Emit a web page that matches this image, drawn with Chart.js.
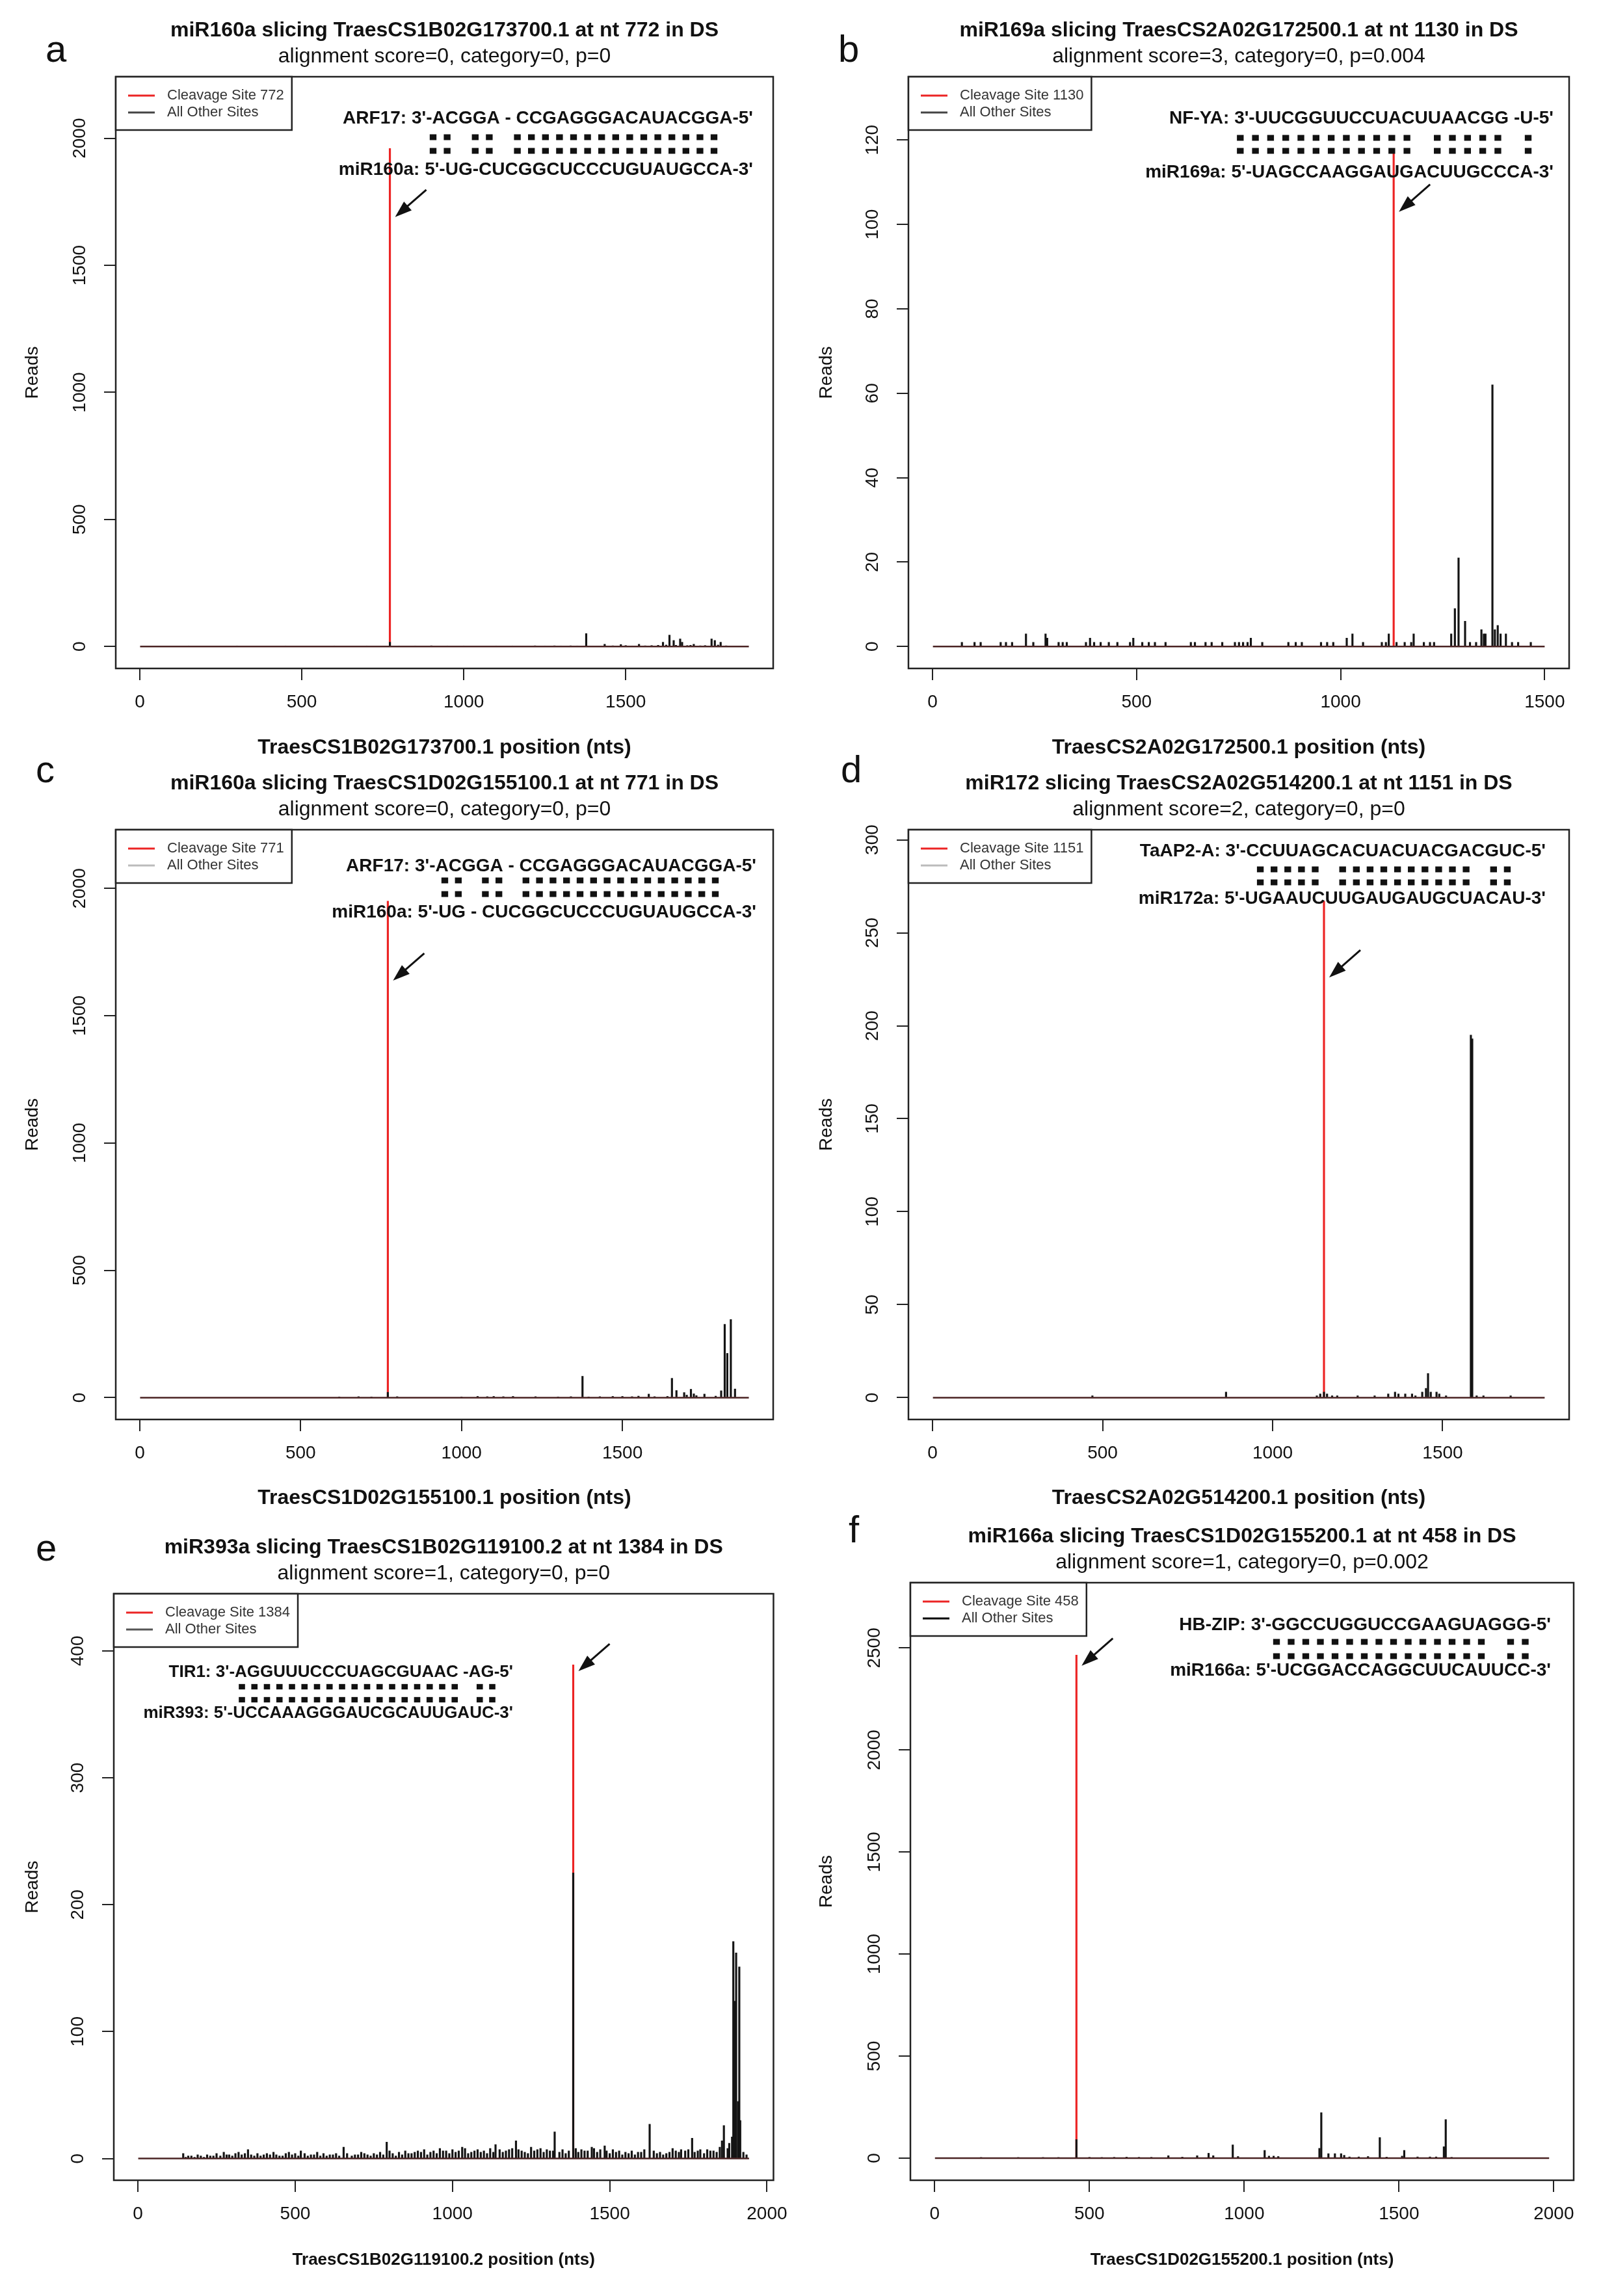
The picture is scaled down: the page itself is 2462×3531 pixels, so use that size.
<!DOCTYPE html>
<html>
<head>
<meta charset="utf-8">
<script src="https://cdn.jsdelivr.net/npm/chart.js@4.4.1/dist/chart.umd.min.js"></script>
<style>
html, body { margin: 0; padding: 0; background: #fff; }
body { width: 2462px; height: 3531px; position: relative; overflow: hidden; font-family: "Liberation Sans", Arial, sans-serif; }
canvas { position: absolute; }
.lab { position: absolute; font-size: 58px; line-height: 58px; color: #111; }
</style>
</head>
<body>
<div class="lab" style="left:70px;top:46px">a</div>
<div class="lab" style="left:1289px;top:46px">b</div>
<div class="lab" style="left:55px;top:1154px">c</div>
<div class="lab" style="left:1293px;top:1154px">d</div>
<div class="lab" style="left:55px;top:2351px">e</div>
<div class="lab" style="left:1305px;top:2323px">f</div>
<script>
// panel texts
const titles = [
  'miR160a slicing TraesCS1B02G173700.1 at nt 772 in DS',
  'miR169a slicing TraesCS2A02G172500.1 at nt 1130 in DS',
  'miR160a slicing TraesCS1D02G155100.1 at nt 771 in DS',
  'miR172 slicing TraesCS2A02G514200.1 at nt 1151 in DS',
  'miR393a slicing TraesCS1B02G119100.2 at nt 1384 in DS',
  'miR166a slicing TraesCS1D02G155200.1 at nt 458 in DS'
];
const subtitles = [
  'alignment score=0, category=0, p=0',
  'alignment score=3, category=0, p=0.004',
  'alignment score=0, category=0, p=0',
  'alignment score=2, category=0, p=0',
  'alignment score=1, category=0, p=0',
  'alignment score=1, category=0, p=0.002'
];
const xTitles = [
  'TraesCS1B02G173700.1 position (nts)',
  'TraesCS2A02G172500.1 position (nts)',
  'TraesCS1D02G155100.1 position (nts)',
  'TraesCS2A02G514200.1 position (nts)',
  'TraesCS1B02G119100.2 position (nts)',
  'TraesCS1D02G155200.1 position (nts)'
];
const targetLines = [
  "ARF17: 3'-ACGGA - CCGAGGGACAUACGGA-5'",
  "NF-YA: 3'-UUCGGUUCCUACUUAACGG -U-5'",
  "ARF17: 3'-ACGGA - CCGAGGGACAUACGGA-5'",
  "TaAP2-A: 3'-CCUUAGCACUACUACGACGUC-5'",
  "TIR1: 3'-AGGUUUCCCUAGCGUAAC -AG-5'",
  "HB-ZIP: 3'-GGCCUGGUCCGAAGUAGGG-5'"
];
const mirnaLines = [
  "miR160a: 5'-UG-CUCGGCUCCCUGUAUGCCA-3'",
  "miR169a: 5'-UAGCCAAGGAUGACUUGCCCA-3'",
  "miR160a: 5'-UG - CUCGGCUCCCUGUAUGCCA-3'",
  "miR172a: 5'-UGAAUCUUGAUGAUGCUACAU-3'",
  "miR393: 5'-UCCAAAGGGAUCGCAUUGAUC-3'",
  "miR166a: 5'-UCGGACCAGGCUUCAUUCC-3'"
];
// | = paired column, . = unpaired
const pairMarks = [
  '||.||.|||||||||||||||.',
  '.||||||||||||.|||||.|',
  '||.||.|||||||||||||||.',
  '.|||||.||||||||||.||.',
  '||||||||||||||||||.||',
  '.|||||||||||||||.||'
];

// tick labels
const yTicks = [
  [0, 500, 1000, 1500, 2000],
  [0, 20, 40, 60, 80, 100, 120],
  [0, 500, 1000, 1500, 2000],
  [0, 50, 100, 150, 200, 250, 300],
  [0, 100, 200, 300, 400],
  [0, 500, 1000, 1500, 2000, 2500]
];
const xTicks = [
  [0, 500, 1000, 1500],
  [0, 500, 1000, 1500],
  [0, 500, 1000, 1500],
  [0, 500, 1000, 1500],
  [0, 500, 1000, 1500, 2000],
  [0, 500, 1000, 1500, 2000]
];

// values
const cleavageSite = [772, 1130, 771, 1151, 1384, 458];
const cleavageReads = [1960, 118, 1950, 267, 389, 2465];
const transcriptLength = [1880, 1500, 1893, 1800, 1943, 1985];
const arrowReads = [1690, 103, 1638, 226, 384, 2413];

const otherPosA = [150, 300, 450, 600, 700, 772, 800, 850, 900, 950, 1000, 1100, 1150, 1220, 1250, 1280, 1300, 1330, 1350, 1378, 1435, 1460, 1485, 1500, 1520, 1541, 1560, 1580, 1600, 1615, 1625, 1635, 1648, 1655, 1668, 1674, 1690, 1700, 1710, 1730, 1745, 1765, 1775, 1785, 1793, 1810];
const otherReadsA = [1, 1, 2, 1, 2, 17, 2, 2, 3, 2, 2, 2, 2, 3, 2, 3, 2, 3, 2, 51, 9, 3, 8, 4, 2, 9, 3, 4, 5, 17, 6, 45, 24, 5, 30, 17, 4, 5, 9, 3, 4, 30, 24, 6, 17, 3];

const otherPosB = [72, 103, 118, 167, 180, 195, 229, 247, 277, 281, 309, 319, 329, 376, 386, 396, 412, 432, 453, 484, 492, 514, 530, 545, 571, 633, 643, 669, 684, 710, 741, 751, 761, 772, 780, 808, 872, 890, 905, 952, 967, 982, 1015, 1029, 1055, 1101, 1111, 1118, 1137, 1157, 1173, 1179, 1204, 1219, 1229, 1271, 1280, 1289, 1305, 1317, 1332, 1345, 1351, 1355, 1372, 1378, 1385, 1392, 1405, 1420, 1435, 1466];
const otherReadsB = [1, 1, 1, 1, 1, 1, 3, 1, 3, 2, 1, 1, 1, 1, 2, 1, 1, 1, 1, 1, 2, 1, 1, 1, 1, 1, 1, 1, 1, 1, 1, 1, 1, 1, 2, 1, 1, 1, 1, 1, 1, 1, 2, 3, 1, 1, 1, 3, 1, 1, 1, 3, 1, 1, 1, 3, 9, 21, 6, 1, 1, 4, 3, 3, 62, 4, 5, 3, 3, 1, 1, 1];

const otherPosC = [620, 680, 720, 771, 800, 1000, 1050, 1080, 1100, 1130, 1160, 1230, 1300, 1340, 1376, 1395, 1430, 1470, 1500, 1530, 1550, 1582, 1600, 1640, 1654, 1668, 1692, 1700, 1713, 1722, 1730, 1755, 1790, 1807, 1818, 1826, 1837, 1850];
const otherReadsC = [3, 4, 3, 21, 4, 3, 5, 4, 5, 4, 5, 4, 3, 4, 84, 3, 4, 5, 5, 4, 6, 14, 4, 5, 76, 28, 20, 10, 33, 15, 8, 14, 6, 27, 288, 174, 307, 34];

const otherPosD = [470, 863, 1130, 1140, 1151, 1160, 1175, 1190, 1250, 1300, 1340, 1360, 1370, 1390, 1410, 1420, 1440, 1451, 1457, 1465, 1482, 1490, 1510, 1583, 1587, 1600, 1620, 1700];
const otherReadsD = [1, 3, 1, 2, 3, 2, 1, 1, 1, 1, 2, 3, 2, 2, 2, 1, 3, 5, 13, 3, 3, 2, 1, 195, 193, 1, 1, 1];

const otherPosE = [144, 160, 180, 200, 220, 240, 273, 290, 310, 330, 350, 370, 400, 431, 450, 470, 490, 518, 540, 560, 600, 620, 654, 680, 700, 720, 740, 760, 791, 820, 840, 870, 900, 920, 950, 970, 990, 1010, 1031, 1050, 1070, 1090, 1110, 1137, 1160, 1180, 1202, 1220, 1240, 1250, 1270, 1290, 1310, 1325, 1340, 1360, 1384, 1400, 1420, 1443, 1460, 1484, 1500, 1520, 1540, 1560, 1580, 1600, 1627, 1650, 1670, 1690, 1700, 1727, 1740, 1762, 1770, 1788, 1800, 1820, 1840, 1857, 1863, 1875, 1889, 1893, 1897, 1902, 1908, 1912, 1915, 1925, 1935];
const otherReadsE = [4, 2, 1, 2, 3, 2, 5, 3, 4, 3, 7, 2, 3, 5, 2, 4, 3, 6, 2, 3, 2, 3, 9, 2, 3, 4, 2, 3, 13, 2, 3, 4, 5, 3, 4, 6, 4, 5, 9, 4, 6, 5, 4, 11, 5, 7, 14, 6, 4, 9, 7, 5, 6, 21, 5, 4, 225, 5, 6, 9, 5, 10, 4, 5, 3, 4, 3, 5, 27, 4, 3, 5, 8, 7, 6, 16, 5, 7, 4, 6, 5, 14, 26, 8, 17, 171, 124, 162, 45, 151, 30, 5, 3];
// low background reads of panel e
const lowPosE = [152, 170, 190, 210, 230, 250, 262, 282, 300, 320, 340, 360, 380, 390, 410, 420, 440, 460, 480, 500, 510, 530, 550, 570, 580, 590, 610, 630, 640, 665, 690, 710, 730, 750, 770, 780, 800, 810, 830, 850, 860, 880, 890, 910, 930, 940, 960, 980, 1000, 1020, 1040, 1060, 1080, 1100, 1120, 1130, 1150, 1170, 1190, 1210, 1230, 1260, 1280, 1300, 1320, 1350, 1370, 1392, 1410, 1430, 1450, 1470, 1490, 1510, 1530, 1550, 1570, 1590, 1610, 1640, 1660, 1680, 1710, 1720, 1750, 1780, 1810, 1830, 1850, 1880];
const lowReadsE = [1, 2, 3, 1, 2, 4, 2, 3, 2, 5, 4, 3, 4, 2, 4, 3, 3, 2, 5, 4, 2, 4, 3, 5, 2, 4, 3, 4, 2, 4, 3, 5, 3, 4, 5, 3, 6, 4, 5, 6, 4, 5, 6, 7, 5, 6, 8, 6, 7, 6, 8, 5, 7, 6, 8, 5, 7, 6, 8, 7, 5, 6, 8, 7, 6, 7, 6, 8, 7, 6, 8, 7, 6, 7, 6, 5, 6, 5, 7, 6, 5, 4, 6, 5, 7, 6, 7, 6, 9, 12];

const otherPosF = [150, 270, 350, 400, 458, 500, 540, 580, 620, 660, 700, 755, 800, 848, 885, 900, 963, 980, 1066, 1080, 1095, 1110, 1243, 1249, 1272, 1293, 1313, 1323, 1340, 1370, 1400, 1438, 1460, 1510, 1517, 1560, 1600, 1620, 1645, 1651, 1670];
const otherReadsF = [2, 2, 3, 2, 91, 4, 3, 4, 5, 4, 4, 12, 5, 12, 24, 12, 65, 8, 38, 10, 10, 8, 48, 223, 22, 22, 22, 14, 6, 6, 8, 101, 5, 10, 38, 6, 6, 6, 56, 189, 4];

const otherPos = [otherPosA, otherPosB, otherPosC, otherPosD, otherPosE.concat(lowPosE), otherPosF];
const otherReads = [otherReadsA, otherReadsB, otherReadsC, otherReadsD, otherReadsE.concat(lowReadsE), otherReadsF];

// page layout: canvas rect and plot box in page pixels
const layout = [
  {cx: 0, cy: 0, cw: 1231, ch: 1180, L: 178, T: 118, R: 1189, B: 1028, yTitleX: 50, xGap: 122, xSize: 32, other: '#444',
   ann: {x: -31, right: true, y: [72, 93, 114, 151], size: 28, m0: -492, step: 21.6}},
  {cx: 1231, cy: 0, cw: 1231, ch: 1180, L: 1397, T: 118, R: 2413, B: 1028, yTitleX: 1271, xGap: 122, xSize: 32, other: '#444',
   ann: {x: -24, right: true, y: [72, 94, 114, 155], size: 28, m0: -505, step: 23.3}},
  {cx: 0, cy: 1180, cw: 1231, ch: 1155, L: 178, T: 1276, R: 1189, B: 2183, yTitleX: 50, xGap: 121, xSize: 32, other: '#bbb',
   ann: {x: -26, right: true, y: [64, 78, 99, 135], size: 28, m0: -479, step: 20.8}},
  {cx: 1231, cy: 1180, cw: 1231, ch: 1155, L: 1397, T: 1276, R: 2413, B: 2183, yTitleX: 1271, xGap: 121, xSize: 32, other: '#bbb',
   ann: {x: -36, right: true, y: [41, 61, 81, 114], size: 28, m0: -460, step: 21.1}},
  {cx: 0, cy: 2335, cw: 1231, ch: 1196, L: 175, T: 2451, R: 1190, B: 3353, yTitleX: 50, xGap: 123, xSize: 26, other: '#555',
   ann: {x: 614, right: false, y: [128, 143, 163, 191], size: 26, m0: -417, step: 19.25}},
  {cx: 1231, cy: 2335, cw: 1231, ch: 1196, L: 1400, T: 2434, R: 2420, B: 3353, yTitleX: 1271, xGap: 123, xSize: 26, other: '#000',
   ann: {x: -35, right: true, y: [73, 91, 113, 143], size: 28, m0: -444.5, step: 22.5}}
];

const FONT = '"Liberation Sans", Arial, sans-serif';
const RED = '#ec2424';
Chart.defaults.font.family = FONT;
Chart.defaults.color = '#111';

const measureCtx = document.createElement('canvas').getContext('2d');

// box, legend, alignment text and arrow
const panelDecor = {
  id: 'panelDecor',
  afterDatasetsDraw(chart, args, opts) {
    const i = opts.index;
    const lay = layout[i];
    const {ctx, chartArea: a, scales} = chart;
    ctx.save();

    ctx.strokeStyle = '#222';
    ctx.lineWidth = 2.5;
    ctx.strokeRect(a.left, a.top, a.right - a.left, a.bottom - a.top);

    // legend
    const labels = ['Cleavage Site ' + cleavageSite[i], 'All Other Sites'];
    const colors = [RED, lay.other];
    ctx.font = '22px ' + FONT;
    const lw = 79 + Math.max(...labels.map(t => ctx.measureText(t).width)) + 12;
    ctx.fillStyle = '#fff';
    ctx.fillRect(a.left, a.top, lw, 82);
    ctx.strokeStyle = '#222';
    ctx.lineWidth = 2.5;
    ctx.strokeRect(a.left, a.top, lw, 82);
    labels.forEach((t, k) => {
      const y = a.top + 29 + k * 26;
      ctx.strokeStyle = colors[k];
      ctx.lineWidth = 3;
      ctx.beginPath();
      ctx.moveTo(a.left + 19, y);
      ctx.lineTo(a.left + 60, y);
      ctx.stroke();
      ctx.fillStyle = '#333';
      ctx.textBaseline = 'middle';
      ctx.textAlign = 'left';
      ctx.fillText(t, a.left + 79, y);
    });

    // alignment
    const ann = lay.ann;
    const xr = ann.right ? a.right + ann.x : a.left + ann.x;
    ctx.fillStyle = '#111';
    ctx.font = 'bold ' + ann.size + 'px ' + FONT;
    ctx.textAlign = 'right';
    ctx.textBaseline = 'alphabetic';
    ctx.fillText(targetLines[i], xr, a.top + ann.y[0]);
    ctx.fillText(mirnaLines[i], xr, a.top + ann.y[3]);
    const mw = ann.size * 0.37, mh = ann.size * 0.32;
    [...pairMarks[i]].forEach((c, k) => {
      if (c !== '|') return;
      const mx = xr + ann.m0 + k * ann.step;
      ctx.fillRect(mx - mw / 2, a.top + ann.y[1] - mh / 2, mw, mh);
      ctx.fillRect(mx - mw / 2, a.top + ann.y[2] - mh / 2, mw, mh);
    });

    // arrow to the cleavage peak
    const tx = scales.x.getPixelForValue(cleavageSite[i]) + 8;
    const ty = scales.y.getPixelForValue(arrowReads[i]);
    const sx = tx + 48, sy = ty - 42;
    const ang = Math.atan2(ty - sy, tx - sx);
    ctx.strokeStyle = '#111';
    ctx.lineWidth = 3;
    ctx.beginPath();
    ctx.moveTo(sx, sy);
    ctx.lineTo(tx - 18 * Math.cos(ang), ty - 18 * Math.sin(ang));
    ctx.stroke();
    ctx.beginPath();
    ctx.moveTo(tx, ty);
    ctx.lineTo(tx - 26 * Math.cos(ang) + 9 * Math.sin(ang), ty - 26 * Math.sin(ang) - 9 * Math.cos(ang));
    ctx.lineTo(tx - 26 * Math.cos(ang) - 9 * Math.sin(ang), ty - 26 * Math.sin(ang) + 9 * Math.cos(ang));
    ctx.closePath();
    ctx.fill();

    ctx.restore();
  }
};

function makePanel(i) {
  const lay = layout[i];
  const canvas = document.createElement('canvas');
  canvas.width = lay.cw;
  canvas.height = lay.ch;
  canvas.style.left = lay.cx + 'px';
  canvas.style.top = lay.cy + 'px';
  document.body.appendChild(canvas);

  const L = lay.L - lay.cx;
  const T = lay.T - lay.cy;
  const R = lay.R - lay.cx;
  const B = lay.B - lay.cy;
  const bottomGap = lay.ch - B;

  // R-like limits: ylim = c(0, 1.1 * max), 4% extension on both axes
  const len = transcriptLength[i];
  const xmin = 1 - 0.04 * (len - 1);
  const xmax = len + 0.04 * (len - 1);
  const ytop = 1.1 * Math.max(cleavageReads[i], ...otherReads[i]);
  const ymin = -0.04 * ytop;
  const ymax = ytop * 1.04;

  measureCtx.font = '28px ' + FONT;
  const widest = Math.max(...yTicks[i].map(v => measureCtx.measureText(String(v)).width));
  const yPad = 37 - widest / 2;

  const gridOpts = {display: true, drawOnChartArea: false, drawTicks: true, tickLength: 18, color: '#222', lineWidth: 2, offset: false};
  const borderOpts = {display: true, color: '#222', width: 2};

  new Chart(canvas, {
    type: 'bar',
    data: {
      datasets: [
        {
          type: 'bar',
          label: 'Cleavage Site ' + cleavageSite[i],
          data: [{x: cleavageSite[i], y: cleavageReads[i]}],
          backgroundColor: RED,
          barThickness: 2.5,
          grouped: false,
          order: 3
        },
        {
          type: 'bar',
          label: 'All Other Sites',
          data: otherPos[i].map((p, k) => ({x: p, y: otherReads[i][k]})),
          backgroundColor: '#141414',
          barThickness: 2.5,
          grouped: false,
          order: 2
        },
        {
          type: 'line',
          label: 'baseline',
          data: [{x: 1, y: 0}, {x: len, y: 0}],
          borderColor: '#4a2323',
          borderWidth: 2.5,
          pointRadius: 0,
          order: 1
        }
      ]
    },
    options: {
      responsive: false,
      animation: false,
      devicePixelRatio: 1,
      events: [],
      layout: {padding: {left: 0, top: 0, bottom: 0, right: lay.cw - R}},
      plugins: {
        legend: {display: false},
        tooltip: {enabled: false},
        title: {
          display: true, text: titles[i], fullSize: false, color: '#111',
          font: {size: 32, weight: 'bold', lineHeight: 1},
          padding: {top: T - 47 - 32 - 8, bottom: 8}
        },
        subtitle: {
          display: true, text: subtitles[i], fullSize: false, color: '#111',
          font: {size: 32, weight: 'normal', lineHeight: 1},
          padding: {top: 0, bottom: 15}
        },
        panelDecor: {index: i}
      },
      scales: {
        x: {
          type: 'linear', min: xmin, max: xmax, offset: false,
          ticks: {autoSkip: false, minRotation: 0, maxRotation: 0,
                  padding: 20, color: '#111', font: {size: 28, lineHeight: 1}, callback: v => String(v)},
          afterBuildTicks: s => { s.ticks = xTicks[i].map(v => ({value: v})); },
          grid: gridOpts,
          border: borderOpts,
          title: {display: true, text: xTitles[i], color: '#111',
                  font: {size: lay.xSize, weight: 'bold', lineHeight: 1},
                  padding: {top: 0, bottom: bottomGap - lay.xGap - lay.xSize / 2}},
          afterFit: s => { s.height = bottomGap; }
        },
        y: {
          type: 'linear', min: ymin, max: ymax,
          ticks: {autoSkip: false, minRotation: 90, maxRotation: 90,
                  crossAlign: 'center', padding: yPad, color: '#111', font: {size: 28}, callback: v => String(v)},
          afterBuildTicks: s => { s.ticks = yTicks[i].map(v => ({value: v})); },
          grid: gridOpts,
          border: borderOpts,
          title: {display: true, text: 'Reads', color: '#111', font: {size: 28, lineHeight: 1},
                  padding: {top: lay.yTitleX - lay.cx - 14, bottom: 0}},
          afterFit: s => { s.width = L; }
        }
      }
    },
    plugins: [panelDecor]
  });
}

for (let i = 0; i < 6; i++) makePanel(i);
</script>
</body>
</html>
